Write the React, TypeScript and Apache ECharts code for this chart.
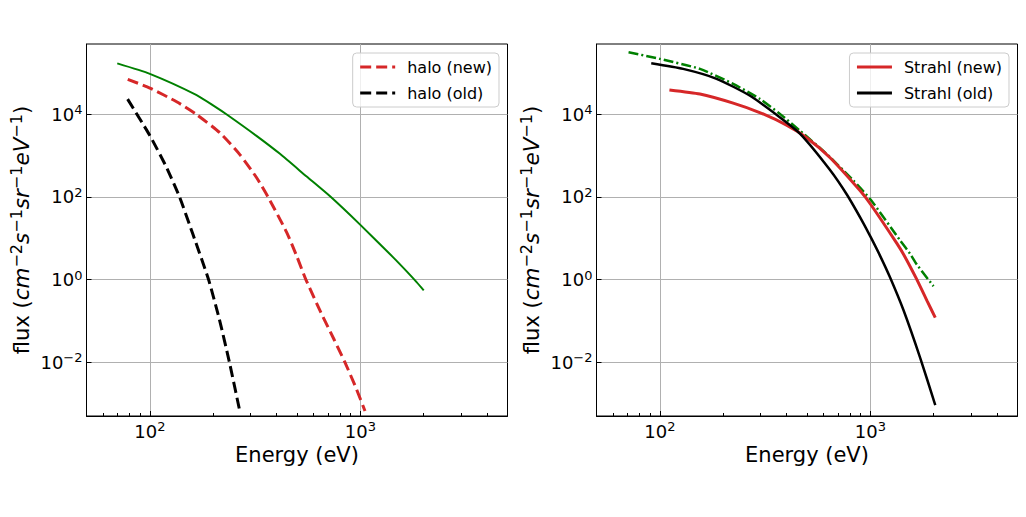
import React, { useEffect, useRef } from "react";
import * as echarts from "echarts";

// ---- Left panel: halo ----
const haloTotalE = [70, 100, 166, 203, 231, 321, 415, 556, 718, 1000, 1436, 1660, 1850, 2000];
const haloTotalF = [1.7e5, 9.5e4, 2.95e4, 1.55e4, 1.0e4, 3.0e3, 1.1e3, 310, 103, 21, 3.4, 1.58, 0.87, 0.55];

const haloNewE = [78.5, 100, 134, 166, 215, 267, 321, 364, 446, 500, 551, 650, 750, 844, 950, 1052];
const haloNewF = [7.0e4, 4.3e4, 2.0e4, 1.0e4, 3.55e3, 1.07e3, 295, 100, 14.1, 3.55, 1.0, 0.158, 0.0355, 0.01, 2.5e-3, 6.6e-4];

const haloOldE = [78.4, 99.5, 119.4, 138, 160, 190, 214, 239, 267];
const haloOldF = [2.32e4, 3.18e3, 546, 103, 12.6, 1.0, 0.108, 9.7e-3, 6.8e-4];

// ---- Right panel: strahl ----
const strahlTotalE = [71, 100, 155, 223, 298, 372, 463, 619, 829, 1004, 1384, 1545, 1664, 1995];
const strahlTotalF = [3.16e5, 2.18e5, 1.25e5, 5.4e4, 2.36e4, 1.02e4, 4.0e3, 1.1e3, 251, 85, 8.9, 4.2, 2.3, 0.69];

const strahlNewE = [111, 155, 223, 298, 400, 498, 642, 893, 1004, 1336, 1450, 1650, 1857, 2034];
const strahlNewF = [3.88e4, 3.09e4, 1.86e4, 1.1e4, 5.43e3, 2.7e3, 900, 142, 65.5, 7.5, 3.78, 1.08, 0.31, 0.12];

const strahlOldE = [91, 129, 186, 267, 371, 463, 642, 773, 927, 1004, 1111, 1241, 1436, 1726, 2034];
const strahlOldF = [1.71e5, 1.25e5, 7.2e4, 2.83e4, 8.5e3, 3.4e3, 454, 114, 23, 10.6, 3.8, 1.12, 0.183, 0.0126, 9.2e-4];

// ---- Axes ----
const xMin = 50;
const xMax = 5000;
const yMin = 5e-4;
const yMax = 5e5;
const xMinorTicks = [60, 70, 80, 90, 200, 300, 400, 500, 600, 700, 800, 900, 2000, 3000, 4000];

const legendLeft = ["halo (new)", "halo (old)"];
const legendRight = ["Strahl (new)", "Strahl (old)"];

const FONT = "DejaVu Sans";

function pairs(e: number[], f: number[]) {
  return e.map((v, i) => [v, f[i]]);
}

function powLabel(value: number) {
  const p = Math.round(Math.log10(value));
  const s = p < 0 ? "\u2212" + -p : String(p);
  return "{b|10}{s|" + s + "}";
}

const tickRich = {
  b: { fontSize: 18, fontFamily: FONT, color: "#000", lineHeight: 22 },
  s: { fontSize: 13, fontFamily: FONT, color: "#000", lineHeight: 12, verticalAlign: "top" },
};

const yName =
  "{b|flux (}{i|cm}{s|\u22122}{i|s}{s|\u22121}{i|sr}{s|\u22121}{i|eV}{s|\u22121}{b|)}";

const nameRich = {
  b: { fontSize: 21, fontFamily: FONT, color: "#000", lineHeight: 26 },
  i: { fontSize: 21.5, fontFamily: FONT, fontStyle: "italic", color: "#000", lineHeight: 26 },
  s: { fontSize: 16, fontFamily: FONT, color: "#000", lineHeight: 14, verticalAlign: "top" },
};

function mainX(gridIndex: number) {
  return {
    type: "log",
    gridIndex,
    logBase: 10,
    min: xMin,
    max: xMax,
    position: "bottom",
    name: "Energy (eV)",
    nameLocation: "middle",
    nameGap: 28,
    nameTextStyle: { fontSize: 21, fontFamily: FONT, color: "#000" },
    axisLine: { show: true, lineStyle: { color: "#000", width: 1 } },
    axisTick: { show: true, inside: true, length: 5, lineStyle: { color: "#000", width: 1 } },
    axisLabel: {
      show: true,
      margin: 4,
      showMinLabel: false,
      showMaxLabel: false,
      formatter: powLabel,
      rich: tickRich,
    },
    splitLine: {
      show: true,
      showMinLine: false,
      showMaxLine: false,
      lineStyle: { color: "#b0b0b0", width: 1 },
    },
  };
}

function minorX(gridIndex: number) {
  return {
    type: "log",
    gridIndex,
    logBase: 10,
    min: xMin,
    max: xMax,
    position: "bottom",
    axisLine: { show: false },
    axisLabel: { show: false },
    splitLine: { show: false },
    axisTick: {
      show: true,
      inside: true,
      length: 3,
      customValues: xMinorTicks,
      lineStyle: { color: "#000", width: 1 },
    },
  };
}

function mainY(gridIndex: number) {
  return {
    type: "log",
    gridIndex,
    logBase: 100,
    min: yMin,
    max: yMax,
    name: yName,
    nameLocation: "middle",
    nameRotate: 90,
    nameGap: 52,
    nameTextStyle: { rich: nameRich },
    axisLine: { show: true, lineStyle: { color: "#000", width: 1 } },
    axisTick: { show: true, inside: true, length: 5, lineStyle: { color: "#000", width: 1 } },
    axisLabel: {
      show: true,
      margin: 4,
      showMinLabel: false,
      showMaxLabel: false,
      formatter: powLabel,
      rich: tickRich,
    },
    splitLine: {
      show: true,
      showMinLine: false,
      showMaxLine: false,
      lineStyle: { color: "#b0b0b0", width: 1 },
    },
  };
}

function legend(data: string[], right: number) {
  return {
    data,
    orient: "vertical",
    right,
    top: 53,
    itemWidth: 35,
    itemHeight: 14,
    itemGap: 10,
    padding: [6, 7, 6, 6],
    borderColor: "#cccccc",
    borderWidth: 1,
    borderRadius: 4,
    backgroundColor: "rgba(255,255,255,0.8)",
    itemStyle: { opacity: 0, borderWidth: 0 },
    lineStyle: { width: 3 },
    textStyle: { fontSize: 16, fontFamily: FONT, color: "#000", lineHeight: 14, padding: [0, 0, 0, 7] },
  };
}

function line(name: string, xi: number, yi: number, data: number[][], color: string, width: number, type: any) {
  return {
    type: "line",
    name,
    xAxisIndex: xi,
    yAxisIndex: yi,
    data,
    symbol: "none",
    showSymbol: false,
    smooth: 0.2,
    lineStyle: { color, width, type },
    itemStyle: { color },
  };
}

export default function App() {
  const ref = useRef<HTMLDivElement>(null);
  useEffect(() => {
    if (!ref.current) return;
    const chart = echarts.init(ref.current, null, { renderer: "svg" });
    const option: any = {
      animation: false,
      backgroundColor: "#fff",
      grid: [
        { left: 86.5, top: 44, width: 421, height: 372, show: true, borderColor: "#000", borderWidth: 1, backgroundColor: "transparent" },
        { left: 596.5, top: 44, width: 421, height: 372, show: true, borderColor: "#000", borderWidth: 1, backgroundColor: "transparent" },
      ],
      xAxis: [mainX(0), minorX(0), mainX(1), minorX(1)],
      yAxis: [mainY(0), mainY(1)],
      legend: [legend(legendLeft, 527), legend(legendRight, 17)],
      series: [
        line("halo (total)", 0, 0, pairs(haloTotalE, haloTotalF), "#008000", 2, "solid"),
        line("halo (new)", 0, 0, pairs(haloNewE, haloNewF), "#d62728", 3, [11, 5]),
        line("halo (old)", 0, 0, pairs(haloOldE, haloOldF), "#000000", 3, [11, 5]),
        line("Strahl (total)", 2, 1, pairs(strahlTotalE, strahlTotalF), "#008000", 2.5, [10, 3, 2, 3]),
        line("Strahl (new)", 2, 1, pairs(strahlNewE, strahlNewF), "#d62728", 3, "solid"),
        line("Strahl (old)", 2, 1, pairs(strahlOldE, strahlOldF), "#000000", 2.5, "solid"),
      ],
    };
    chart.setOption(option);
    return () => chart.dispose();
  }, []);
  return (
    <div
      ref={ref}
      style={{ position: "absolute", left: 0, top: 0, width: 1026, height: 517, background: "#fff" }}
    />
  );
}
